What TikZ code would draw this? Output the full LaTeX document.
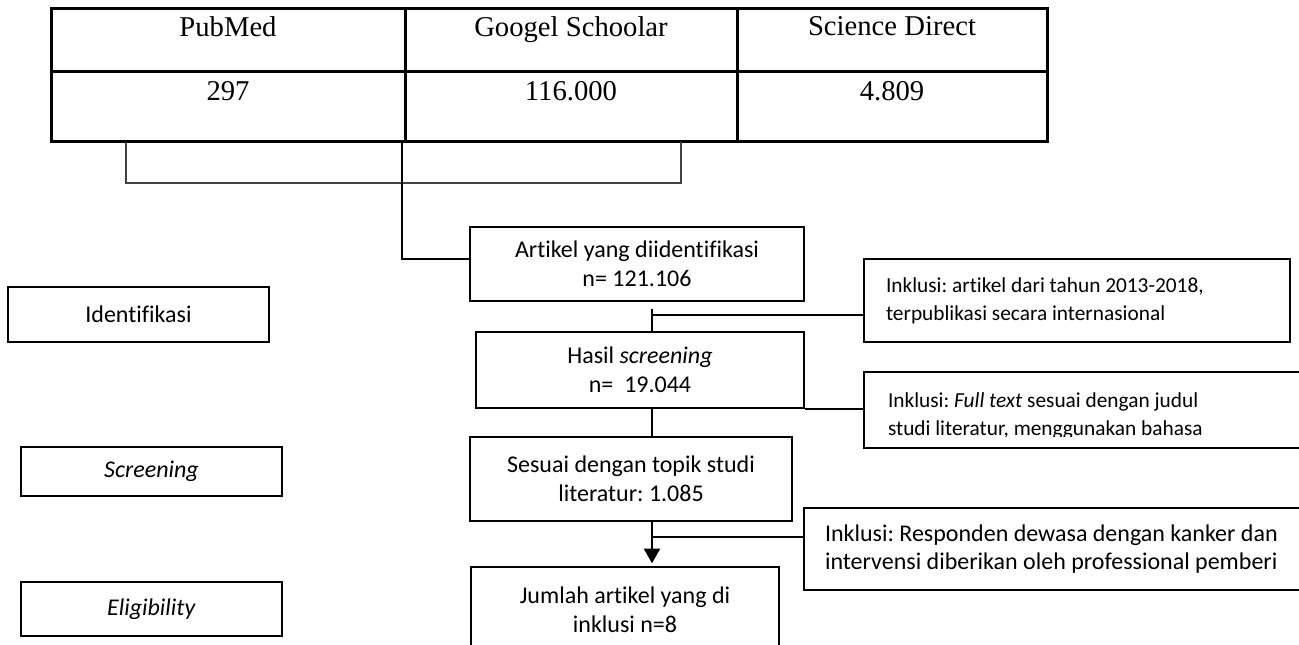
\documentclass[tikz,border=0pt]{standalone}
\usepackage{fontspec}
\setmainfont{Carlito}[Ligatures={NoCommon}]
\newfontfamily\tablefont{Liberation Serif}
\usepackage{tikz}
\usetikzlibrary{arrows.meta,positioning,calc}
\frenchspacing

\begin{document}
\begin{tikzpicture}[x=0.75pt,y=-0.75pt,line width=1.5pt,>={Triangle[width=12pt,length=11pt]}]
        \tikzstyle{cell} = [draw, line width=2.25pt, inner sep=0pt]
        \tikzstyle{cellhead} = [anchor=north, inner sep=0pt, yshift=-6pt, font=\tablefont\fontsize{21.5}{26}\selectfont]
        \tikzstyle{cellnum} = [cellhead, yshift=-1.5pt]
        \tikzstyle{box} = [draw, align=center, inner sep=0pt, font=\fontsize{18}{21.75}\selectfont]
        \tikzstyle{stage} = [draw, inner sep=0pt, font=\fontsize{18}{21.75}\selectfont]
        \tikzstyle{crit} = [draw, align=flush left, inner ysep=0pt, font=\fontsize{16}{21}\selectfont]
        \tikzstyle{link} = [line width=1.5pt]

        \useasboundingbox (0,0) rectangle (1299,645);

        % Database table
        \node[cell, minimum width=265.5pt, minimum height=47.25pt, label={[cellhead]north:PubMed}] (pub) at (228,40.5) {};
        \node[cell, minimum width=249pt, minimum height=47.25pt, label={[cellhead]north:Googel Schoolar}] (gs) at (571,40.5) {};
        \node[cell, minimum width=232.5pt, minimum height=47.25pt, label={[cellhead]north:Science Direct}] (sd) at (892,40.5) {};
        \node[cell, minimum width=265.5pt, minimum height=52.5pt, label={[cellnum]north:297}] (pubn) at (228,107) {};
        \node[cell, minimum width=249pt, minimum height=52.5pt, label={[cellnum]north:116.000}] (gsn) at (571,107) {};
        \node[cell, minimum width=232.5pt, minimum height=52.5pt, label={[cellnum]north:4.809}] (sdn) at (892,107) {};

        % Stages
        \node[stage, minimum width=195.75pt, minimum height=41.25pt] (ident) at (138.5,314.5) {Identifikasi};
        \node[stage, minimum width=195.75pt, minimum height=36.75pt] (scr) at (151.5,471.5) {\textit{Screening}};
        \node[stage, minimum width=195.75pt, minimum height=40.5pt] (elig) at (151.5,609) {\textit{Eligibility}};

        % Flow
        \node[box, minimum width=250.5pt, minimum height=55.5pt] (art) at (637,264) {Artikel yang diidentifikasi\\n= 121.106};
        \node[box, minimum width=246pt, minimum height=57pt] (hasil) at (640,370) {Hasil \textit{screening}\\n=\ \ 19.044};
        \node[box, minimum width=241.5pt, minimum height=63pt] (sesuai) at (631,479) {Sesuai dengan topik studi\\literatur: 1.085};
        \node[box, minimum width=231pt, minimum height=64.5pt] (jumlah) at (625,610) {Jumlah artikel yang di\\inklusi n=8};

        % Criteria
        \node[crit, inner xsep=16.5pt, text width=286.5pt, minimum height=62.25pt] (ink1) at (1077,300.5) {Inklusi: artikel dari tahun 2013-2018,\\terpublikasi secara internasional};
        \node[draw, minimum width=402pt, minimum height=57pt] (ink2) at (1132,410) {};
        \begin{scope}
          \clip (864,372) rectangle (1299,436.5);
          \node[crit, draw=none, inner sep=0pt, anchor=north west] (ink2txt) at (887,392) {Inklusi: \textit{Full text} sesuai dengan judul\\studi literatur, menggunakan bahasa};
        \end{scope}
        \node[crit, inner xsep=15.75pt, text width=415.5pt, minimum height=61.5pt, font=\fontsize{18}{21}\selectfont] (ink3) at (1102,549) {Inklusi: Responden dewasa dengan kanker dan\\intervensi diberikan oleh professional pemberi};

        % Edges
        \coordinate (bkl) at (126,142);
        \coordinate (bkm) at (402,142);
        \coordinate (bkr) at (681,142);
        \coordinate (axis) at (652,0);
        \coordinate (j1) at (652,315);
        \coordinate (j3) at (652,537);
        \draw[link, black!75] (bkl) -- ++(0,41) -| (bkr);
        \draw[link] (bkm) |- ([yshift=3.75pt]art.west);
        \draw[link] ([yshift=-5.25pt]axis |- art.south) -- (axis |- hasil.north);
        \draw[link] (j1) -- (j1 -| ink1.west);
        \draw[link] (hasil.south east) -- (hasil.south east -| ink2.west);
        \draw[link] (axis |- hasil.south) -- (axis |- sesuai.north);
        \draw[link, ->, shorten >=2pt] (axis |- sesuai.south) -- (axis |- jumlah.north);
        \draw[link] (j3) -- (j3 -| ink3.west);
    \end{tikzpicture}
\end{document}
